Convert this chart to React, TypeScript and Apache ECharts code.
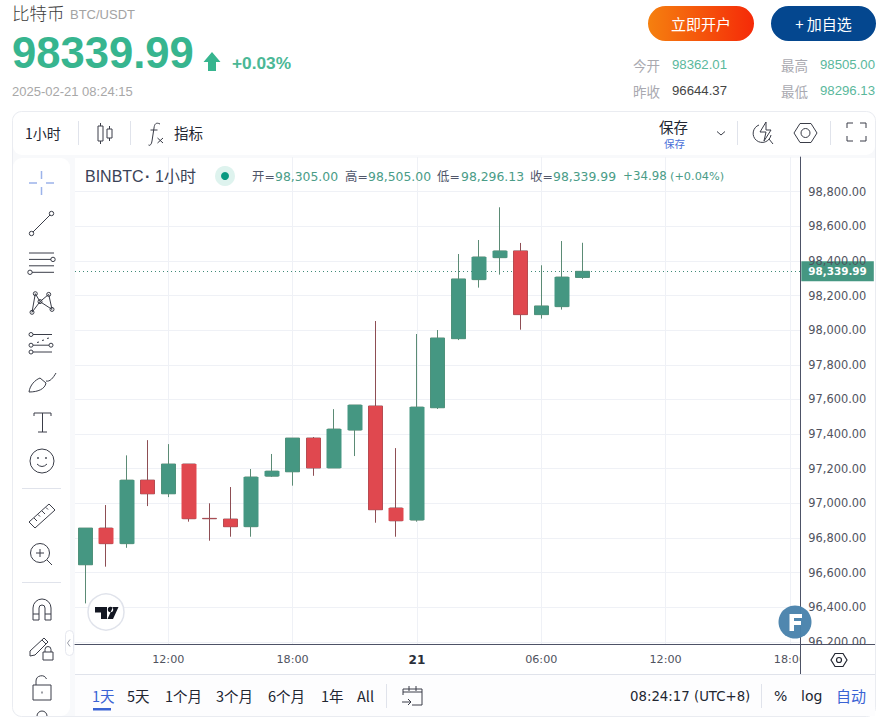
import React, { useEffect, useRef } from "react";
import * as echarts from "echarts";

const categories = ["08:00","09:00","10:00","11:00","12:00","13:00","14:00","15:00","16:00","17:00","18:00","19:00","20:00","21:00","22:00","23:00","21","01:00","02:00","03:00","04:00","05:00","06:00","07:00","08:00","09:00","10:00","11:00","12:00","13:00","14:00","15:00","16:00","17:00","18:00"];
const xTickLabels = ["12:00", "18:00", "21", "06:00"];
const opens = [96645,96857,96767,97134,97055,97227,96913,96909,96865,97157,97182,97377,97204,97423,97562,96973,96903,97552,97951,98292,98419,98458,98090,98136,98305];
const closes = [96857,96767,97134,97055,97227,96911,96911,96865,97152,97186,97377,97204,97429,97568,96963,96899,97556,97955,98296,98423,98458,98090,98140,98307,98339.99];
const lows = [96422,96634,96743,96984,97036,96894,96784,96807,96807,97152,97102,97159,97204,97273,96888,96807,96894,97545,97943,98246,98321,98003,98067,98119,98296.13];
const highs = [96857,96990,97277,97365,97342,97227,97000,97094,97198,97285,97377,97383,97544,97568,98053,97319,97978,98001,98440,98521,98710,98504,98375,98515,98505];
const legendItems = [["开=", 252, "98,305.00", 275], ["高=", 345, "98,505.00", 368], ["低=", 437, "98,296.13", 461], ["收=", 530, "98,339.99", 553]];
const statItems = [["今开", 633, "98362.01", 672, "#5ab89c", 64.5], ["最高", 781, "98505.00", 820, "#5ab89c", 64.5], ["昨收", 633, "96644.37", 672, "#444444", 90.5], ["最低", 781, "98296.13", 820, "#5ab89c", 90.5]];
const rangeItems = [["1天", 92], ["5天", 127], ["1个月", 165], ["3个月", 216], ["6个月", 268], ["1年", 321], ["All", 357]];

const SANS = '"Liberation Sans","Noto Sans CJK SC"';
const CJK = '"Noto Sans CJK SC"';
const MONO = '"DejaVu Sans","Noto Sans CJK SC"';
const GREEN = "#459782";
const RED = "#e0484f";
const GRID = "#eff1f6";
const AXIS = "#4d5266";
const INK = "#3a3d48";

const circ = (x: number, y: number, r: number) => `M${x - r} ${y}a${r} ${r} 0 1 0 ${2 * r} 0a${r} ${r} 0 1 0 ${-2 * r} 0Z`;

const icons: Record<string, string> = {
  crossI: "M29 183H37M46 183H54M41.5 171V179M41.5 187V195",
  trendI: circ(51.5, 213.5, 2.2) + circ(31.5, 233.5, 2.2) + "M33 232L50 215",
  linesI: "M29 253H54M29 259.4H51M29 265.8H54M32 272.3H54" + circ(53, 259.4, 2.2) + circ(30, 272.3, 2.2),
  xabcdI: "M35.3 293.7L40 301.6L48.7 294.4L52 309.4L40 301.6L32 312.3L35.3 293.7" + circ(35.3, 293.7, 2) + circ(48.7, 294.4, 2) + circ(40, 301.6, 2) + circ(32, 312.3, 2) + circ(52, 309.4, 2),
  fibI: "M33 334.5H52M33 345.2H49M33 352H52M37 342.5L39 342M42 340.5L44 340M47 338.5L49 338" + circ(31, 334.5, 2) + circ(31, 345.2, 2) + circ(31, 352, 2) + circ(51, 345.2, 2),
  brushI: "M29 392C30 385 35 380 40 378L46 383C45 389 38 392 29 392ZM46 381C50 382 53 378 56 373",
  textI: "M34 416V413H51V416M42.5 413V432M38 432H47",
  smileI: circ(42, 461, 12) + circ(38, 458, 0.6) + circ(46, 458, 0.6) + "M37 464Q42 469 47 464",
  rulerI: "M29 522L49 504L55 510L35 528ZM34 518L37 521M38 514.5L40 516.5M42 511L45 514M46 507.5L48 509.5",
  zoomI: circ(40, 553, 9.5) + "M36 553H44M40 549V557M47 560L52 565",
  magnetI: "M33 620V608A9 9 0 0 1 51 608V620H45V608A3 3 0 0 0 39 608V620ZM33 614H39M45 614H51",
  pencilI: "M30 651L30 656L35 655L48 642L44 638ZM42 640L46 644M43 652H53V660H43ZM45 652V649.5A3 3 0 0 1 51 649.5V652",
  lockI: "M33 685H51V700H33ZM36 685V681A5.5 5.5 0 0 1 46.5 679M42 691.5V693.5M37 716A5 5 0 0 1 47 716",
  candleI: "M98 126H103V141H98ZM100.5 123V126M100.5 141V144M107 129H112V138H107ZM109.5 126V129M109.5 138V141",
  fxI: "M160 124C156 122 154.5 124 154 128L152 141C151.5 145 149.5 146 148.5 145M150.5 130H157.5M157.5 138L163 143M163 138L157.5 143",
  chevI: "M717 131.5L721 135L725 131.5",
  quickI: "M759 125A9 9 0 1 0 771 135M766 122L760 132H766L764 141L771 130H766ZM769 139L773 144",
  hexI: "M794 133L800 123.5H811L817 133L811 142.5H800Z" + circ(805.5, 133, 4.5),
  fullI: "M847 128V123H853M860 123H866V128M866 136V141H860M853 141H847V136",
  calI: "M403 695V689H422V705H412M409 686V691M416 686V691M403 692H422M402 702H411M408 699L411 702L408 705",
  setI: "M831 660L835 653.5H843L847 660L843 666.5H835Z" + circ(839, 660, 2.5),
  tabI: "M70 639.5L67.5 643L70 646.5",
  tvI: "M95 607H107V619H101V612.5H95Z" + circ(110.5, 609.5, 2.7) + "M113 607H118.5L113 619H107.5Z",
  arrowI: "M212 52L220.5 62H216V71H208V62H203.5Z",
  fI: "M789.5 614H802V618H794V621H801V625H794V631H789.5Z",
};
Object.keys(icons).forEach((k) => echarts.graphic.registerShape(k, echarts.graphic.extendPath(icons[k] as any, {}) as any));

const ink = (type: string, stroke = INK, lineWidth = 1) => ({ type, z: 10, silent: true, style: { fill: "none", stroke, lineWidth } });
const solid = (type: string, fill: string, z = 10) => ({ type, z, silent: true, style: { fill } });
const t = (text: string, x: number, y: number, font: string, fill: string, textAlign = "left", z = 10) => ({
  type: "text", z, silent: true, style: { text, x, y, font, fill, textAlign, textVerticalAlign: "middle" },
});
const rect = (x: number, y: number, width: number, height: number, fill: string, z = -1, r = 0, stroke?: string) => ({
  type: "rect", z, silent: true, shape: { x, y, width, height, r }, style: { fill, stroke },
});
const line = (x1: number, y1: number, x2: number, y2: number, stroke: string, z = 10) => ({
  type: "line", z, silent: true, shape: { x1, y1, x2, y2 }, style: { stroke, lineWidth: 1 },
});

const graphics: any[] = [
  rect(12.5, 111.5, 863, 605, "#f8f9fb", -2, 9, "#eaecf1"),
  rect(13, 112, 862, 43, "#ffffff", -1, 9),
  rect(13, 158, 57, 558, "#ffffff", -1, 9),
  rect(75, 158, 800, 517, "#ffffff"),
  // covers below the price pane
  rect(75, 645, 725, 30, "#ffffff", 1),
  rect(801, 645, 74, 29.5, "#ffffff", 6),
  rect(75, 675, 800, 41, "#fdfdfe", 6, 0),
  line(800, 644.5, 875, 644.5, AXIS, 7),
  line(75, 674.5, 875, 674.5, "#e0e3eb", 7),
  line(22, 488.5, 61, 488.5, "#e0e3eb"),
  line(22, 582.5, 61, 582.5, "#e0e3eb"),
  line(78.5, 121, 78.5, 145, "#e0e3eb"),
  line(130.5, 121, 130.5, 145, "#e0e3eb"),
  line(737.5, 121, 737.5, 145, "#e0e3eb"),
  line(830.5, 121, 830.5, 145, "#e0e3eb"),
  line(386.5, 684, 386.5, 708, "#e0e3eb"),
  line(761.5, 684, 761.5, 708, "#e0e3eb"),
  t("比特币", 12, 12, `300 17.5px ${CJK}`, "#3c3c3c"),
  t("BTC/USDT", 70, 14, `13px ${SANS}`, "#a3a3a3"),
  t("98339.99", 12, 53, `bold 43.6px ${SANS}`, "#37b58f"),
  solid("arrowI", "#37b58f"),
  t("+0.03%", 232, 63, `bold 17.3px ${SANS}`, "#4bb896"),
  t("2025-02-21 08:24:15", 12, 91, `13px ${SANS}`, "#a8a8a8"),
  {
    type: "rect", z: 10, silent: true, shape: { x: 648, y: 6, width: 106, height: 35, r: 17.5 },
    style: { fill: new echarts.graphic.LinearGradient(0, 0, 1, 0, [{ offset: 0, color: "#f5800f" }, { offset: 1, color: "#f52a08" }]) },
  },
  { type: "rect", z: 10, silent: true, shape: { x: 771, y: 6, width: 105, height: 35, r: 17.5 }, style: { fill: "#04478f" } },
  t("立即开户", 701, 23.5, `15px ${CJK}`, "#ffffff", "center", 11),
  t("+ 加自选", 823.5, 23.5, `15px ${CJK}`, "#ffffff", "center", 11),
  ...statItems.flatMap(([a, ax, b, bx, c, y]: any) => [t(a, ax, y, `13.5px ${CJK}`, "#a9a9b0"), t(b, bx, y, `13.2px ${SANS}`, c)]),
  t("1小时", 25, 132.5, `14px ${CJK}`, "#222631"),
  ink("candleI"),
  ink("fxI"),
  t("指标", 174, 132.5, `14.5px ${CJK}`, "#222631"),
  t("保存", 659, 126, `14.5px ${CJK}`, "#222631"),
  t("保存", 664, 143, `10.5px ${CJK}`, "#4a6fd8"),
  ink("chevI"),
  ink("quickI"),
  ink("hexI"),
  ink("fullI"),
  ink("crossI", "#9cb3ea", 1.5),
  ...["trendI", "linesI", "xabcdI", "fibI", "brushI", "textI", "smileI", "rulerI", "zoomI", "magnetI", "pencilI", "lockI"].map((n) => ink(n)),
  { type: "rect", z: 10, silent: true, shape: { x: 65.5, y: 630.5, width: 8, height: 25, r: 4 }, style: { fill: "#ffffff", stroke: "#e6e8ef" } },
  ink("tabI", "#9a9ea8", 1),
  t("BINBTC", 85, 176, `16px ${SANS}`, "#3a4257"),
  t("·", 145, 176, `bold 16px ${SANS}`, "#3a4257"),
  t("1小时", 155, 176, `16px ${SANS}`, "#3a4257"),
  { type: "circle", z: 10, silent: true, shape: { cx: 225, cy: 176, r: 10 }, style: { fill: "#def3ee" } },
  { type: "circle", z: 11, silent: true, shape: { cx: 225, cy: 176, r: 4 }, style: { fill: "#089981" } },
  ...legendItems.flatMap(([a, ax, b, bx]: any) => [t(a, ax, 176, `12.4px ${MONO}`, "#50566a"), t(b, bx, 176, `12.4px ${MONO}`, "#4a9c87")]),
  t("+34.98", 623, 176, `11.8px ${MONO}`, "#4a9c87"),
  t("(+0.04%)", 670, 176, `11.3px ${MONO}`, "#4a9c87"),
  { type: "circle", z: 10, silent: true, shape: { cx: 106, cy: 612, r: 18 }, style: { fill: "#ffffff", stroke: "#e0e3eb", lineWidth: 1.5 } },
  solid("tvI", "#131722", 11),
  { type: "circle", z: 10, silent: true, shape: { cx: 795, cy: 622, r: 16.5 }, style: { fill: "#4a83ac", opacity: 0.97 } },
  solid("fI", "#ffffff", 11),
  ink("setI", "#222631", 1.2),
  ...rangeItems.map(([a, x]: any, i) => t(a, x, 695.5, `14.5px ${CJK}`, i === 0 ? "#3a63d4" : "#222631")),
  rect(93, 708, 18, 2.5, "#3a63d4", 10),
  ink("calI"),
  t("08:24:17 (UTC+8)", 630, 696, `13.3px ${MONO}`, "#222631"),
  t("%", 774, 696, `14px ${MONO}`, "#222631"),
  t("log", 801, 696, `14px ${MONO}`, "#222631"),
  t("自动", 836, 695.5, `15px ${CJK}`, "#3a63d4"),
];

const fmt = (v: number) => v.toLocaleString("en-US", { minimumFractionDigits: 2, maximumFractionDigits: 2 });

export default function App() {
  const ref = useRef<HTMLDivElement>(null);
  useEffect(() => {
    const chart = echarts.init(ref.current!, undefined, { renderer: "svg" });
    const candle = opens.map((o, i) => [o, closes[i], lows[i], highs[i]]);
    const bodies = opens.map((o, i) => [o, closes[i], Math.min(o, closes[i]), Math.max(o, closes[i])]);
    chart.setOption({
      animation: false,
      backgroundColor: "#ffffff",
      tooltip: { show: false },
      grid: [
        { left: 75, top: 157.08, width: 725.3, height: 519.36 },
        { left: 75, top: 643.6, width: 725.3, height: 0.8 },
      ],
      xAxis: [
        {
          type: "category", gridIndex: 0, data: categories, boundaryGap: true,
          axisLine: { show: false }, axisTick: { show: false }, axisLabel: { show: false },
          splitLine: { show: true, alignWithLabel: true, interval: (_: number, v: string) => xTickLabels.includes(v), lineStyle: { color: GRID, width: 1 } },
        },
        {
          type: "category", gridIndex: 1, data: categories, boundaryGap: true, z: 5,
          axisLine: { show: true, lineStyle: { color: AXIS, width: 1 } },
          axisTick: { show: false },
          splitLine: { show: false },
          axisLabel: {
            show: true, margin: 10, hideOverlap: false,
            interval: (_: number, v: string) => xTickLabels.includes(v),
            formatter: (v: string) => (v === "21" ? `{d|${v}}` : v),
            color: "#50535e", fontFamily: "DejaVu Sans", fontSize: 11.2,
            rich: { d: { fontFamily: "DejaVu Sans", fontWeight: "bold", fontSize: 12, color: "#2a2e39" } },
          },
        },
      ],
      yAxis: [
        {
          type: "value", gridIndex: 0, position: "right", min: 96000, max: 99000, interval: 200, z: 5, scale: true,
          axisLine: { show: true, lineStyle: { color: AXIS, width: 1 } },
          axisTick: { show: false },
          splitLine: { show: true, showMinLine: false, showMaxLine: false, lineStyle: { color: GRID, width: 1 } },
          axisLabel: {
            show: true, margin: 8, color: "#50535e", fontFamily: "DejaVu Sans", fontSize: 11.4, padding: [0, 0, 2, 0],
            formatter: (v: number) => (v < 96200 || v > 98800 ? "" : fmt(v)),
          },
        },
        { type: "value", gridIndex: 1, show: false, min: 0, max: 1 },
      ],
      graphic: { elements: graphics },
      series: [
        {
          type: "candlestick", xAxisIndex: 0, yAxisIndex: 0, z: 8, barWidth: 14, data: candle, silent: true,
          itemStyle: { color: "#5b8b75", color0: "#8e4e54", borderColor: "#5b8b75", borderColor0: "#8e4e54", borderWidth: 1 },
        },
        {
          type: "candlestick", xAxisIndex: 0, yAxisIndex: 0, z: 8, barWidth: 15, data: bodies, silent: true,
          itemStyle: { color: GREEN, color0: RED, borderColor: GREEN, borderColor0: RED, borderWidth: 0 },
          markLine: {
            silent: true, symbol: "none", animation: false,
            lineStyle: { color: "#3f8a78", type: [1, 3], width: 1 },
            label: {
              show: true, position: "end", distance: 1, formatter: () => fmt(closes[closes.length - 1]),
              backgroundColor: GREEN, color: "#ffffff", fontFamily: "DejaVu Sans", fontWeight: "bold", fontSize: 10.4, padding: [5, 7],
            },
            data: [{ yAxis: closes[closes.length - 1] }],
          },
        },
      ],
    });
    return () => chart.dispose();
  }, []);
  return <div ref={ref} style={{ position: "absolute", left: 0, top: 0, width: 890, height: 722 }} />;
}
